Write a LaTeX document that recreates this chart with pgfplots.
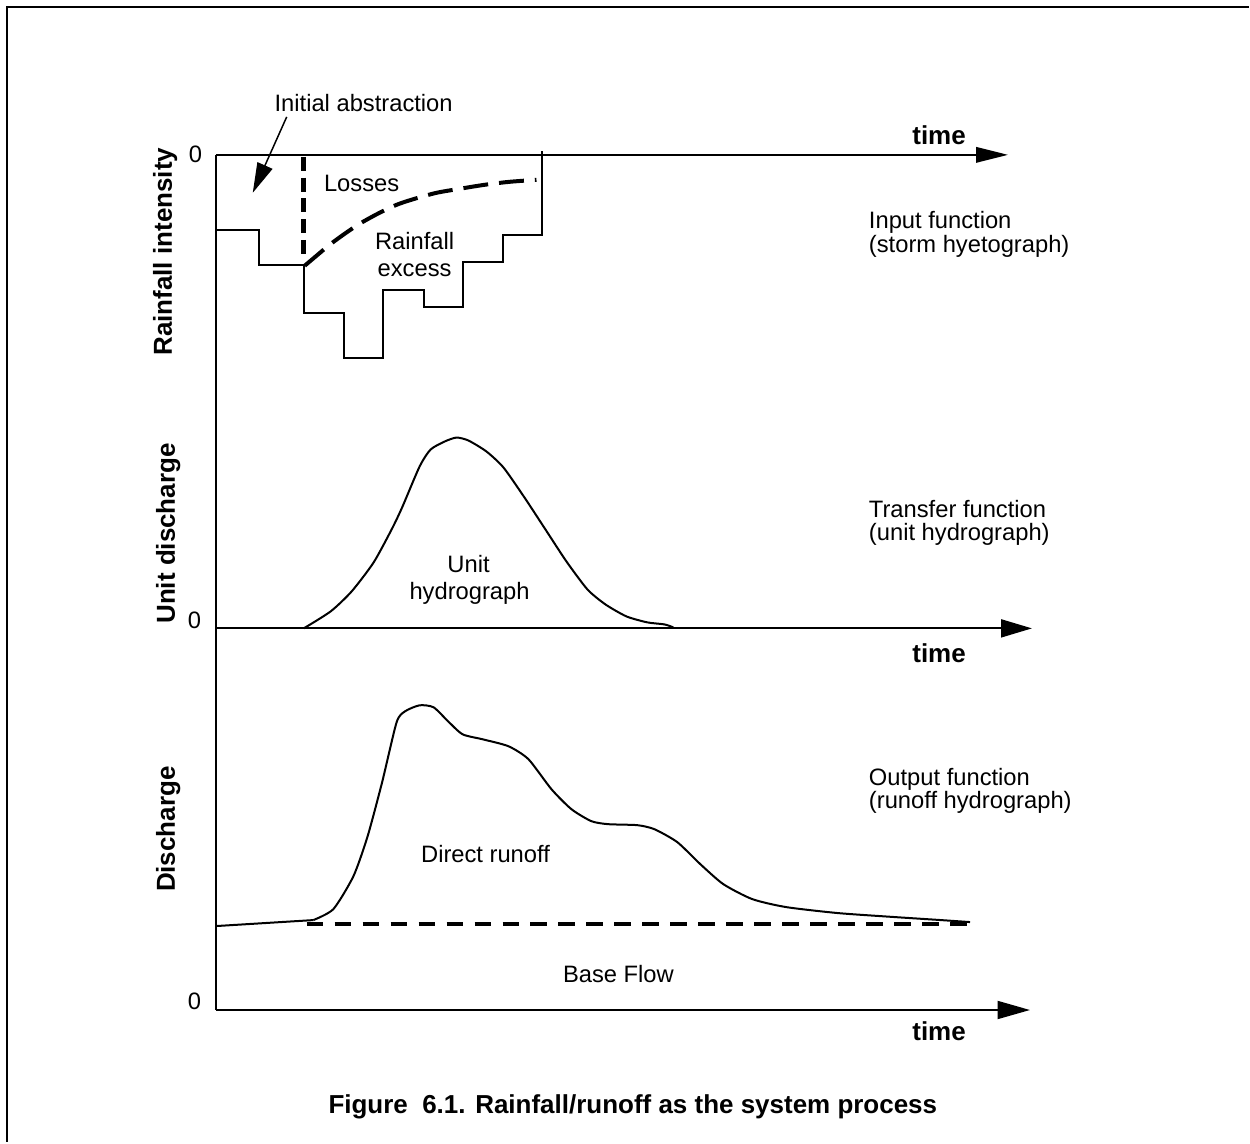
\documentclass[border=0pt]{standalone}
\usepackage{fontspec}
\setmainfont{Liberation Sans}
\usepackage{pgfplots}
\pgfplotsset{compat=1.18}
\usetikzlibrary{arrows.meta}
\begin{document}
\begin{tikzpicture}
\begin{axis}[
  x=0.4pt, y=0.4pt, y dir=reverse,
  xmin=0, xmax=1250, ymin=0, ymax=1143,
  hide axis, clip=false,
  cycle list={{black,mark=none}},
  every axis plot/.append style={black, line width=0.8pt, mark=none},
]
% bounding box
\path (axis cs:0,0) rectangle (axis cs:1250,1143);
% frame (top and left edges)
\addplot[black, line width=1pt] coordinates {(1250,7) (7,7) (7,1143)};
% y axis (shared)
\addplot[black] coordinates {(216,155) (216,1011)};
% time axes
\addplot[black, -{Triangle[length=12.8pt,width=6.2pt]}] coordinates {(216,155) (1009,155)};
\addplot[black, -{Triangle[length=12.4pt,width=7.2pt]}] coordinates {(216,629) (1033,629)};
\addplot[black, -{Triangle[length=13pt,width=7.2pt]}] coordinates {(216,1011) (1031,1011)};

% ---------- Panel 1: storm hyetograph ----------
\addplot[black, line width=0.8pt] coordinates {
 (216,230) (259,230) (259,265) (304,265) (304,313) (344,313) (344,358)
 (383,358) (383,290) (424,290) (424,307) (463,307) (463,262) (503,262)
 (503,235) (543,235) (543,151)};
% initial abstraction dashed line
\addplot[black, line width=1.8pt, dash pattern=on 5.6pt off 2.7pt] coordinates {(304,157) (304,257)};
% loss curve
\addplot[black, line width=1.6pt, dash pattern=on 10pt off 4.4pt, smooth, tension=0.5] coordinates {
 (305,266) (318,255) (330,245) (345,234) (360,224) (378,214) (397,205)
 (415,199) (437,193) (460,189) (485,185) (510,182) (537,180)};
% arrow for initial abstraction
\addplot[black, line width=0.6pt, -{Triangle[length=12pt,width=6.5pt]}] coordinates {(287,117) (253,193)};

\node[anchor=base, font=\fontsize{9.5pt}{11pt}\selectfont] at (axis cs:364,112) {Initial abstraction};
\node[anchor=base, font=\fontsize{9.5pt}{11pt}\selectfont] at (axis cs:362,192) {Losses};
\node[anchor=base, font=\fontsize{9.5pt}{11pt}\selectfont] at (axis cs:415,250) {Rainfall};
\node[anchor=base, font=\fontsize{9.5pt}{11pt}\selectfont] at (axis cs:415,277) {excess};
\node[anchor=base west, font=\fontsize{9.5pt}{11pt}\selectfont] at (axis cs:861,229) {Input function};
\node[anchor=base west, font=\fontsize{9.5pt}{11pt}\selectfont] at (axis cs:861,253) {(storm hyetograph)};
\node[anchor=base, font=\bfseries\fontsize{10.4pt}{12pt}\selectfont] at (axis cs:940,145) {time};
\node[anchor=base east, font=\fontsize{9.5pt}{11pt}\selectfont] at (axis cs:211,163) {0};
\node[anchor=base, rotate=90, font=\bfseries\fontsize{10.4pt}{12pt}\selectfont] at (axis cs:172,252) {Rainfall intensity};

% ---------- Panel 2: unit hydrograph ----------
\addplot[black, smooth, tension=0.4] coordinates {
 (304,629) (331,612) (352,592) (374,563) (392,530) (402.5,508) (420,467)
 (431,450) (445,442) (457,438) (469,441) (487,452) (504,468) (525,498)
 (546,530) (567,562) (588,590) (606,605) (627,617) (648,623) (665,625) (674,628)};
\node[anchor=base, font=\fontsize{9.5pt}{11pt}\selectfont] at (axis cs:469,573) {Unit};
\node[anchor=base, font=\fontsize{9.5pt}{11pt}\selectfont] at (axis cs:470,600) {hydrograph};
\node[anchor=base west, font=\fontsize{9.5pt}{11pt}\selectfont] at (axis cs:861,518) {Transfer function};
\node[anchor=base west, font=\fontsize{9.5pt}{11pt}\selectfont] at (axis cs:861,541) {(unit hydrograph)};
\node[anchor=base, font=\bfseries\fontsize{10.4pt}{12pt}\selectfont] at (axis cs:940,663) {time};
\node[anchor=base east, font=\fontsize{9.5pt}{11pt}\selectfont] at (axis cs:210,629) {0};
\node[anchor=base, rotate=90, font=\bfseries\fontsize{10.4pt}{12pt}\selectfont] at (axis cs:175,534) {Unit discharge};

% ---------- Panel 3: runoff hydrograph ----------
\addplot[black] coordinates {(216,927) (313.6,921)};
\addplot[black, smooth, tension=0.4] coordinates {
 (313.6,921) (333.7,910) (353.8,877) (368,837) (382.5,783) (397,723)
 (405.5,712) (420,706) (434,708) (448.5,722) (463,735) (483,740) (509,747)
 (529,760) (552,790) (572,810) (592,822) (609,825) (638,826) (655,830)
 (678,843) (701,865) (724,885) (753,900) (787,908) (839,914) (896,918)
 (942,921) (971,923)};
\addplot[black, line width=1.6pt, dash pattern=on 6.6pt off 4.6pt] coordinates {(307,924.5) (969,924.5)};
\node[anchor=base, font=\fontsize{9.5pt}{11pt}\selectfont] at (axis cs:486,863) {Direct runoff};
\node[anchor=base, font=\fontsize{9.5pt}{11pt}\selectfont] at (axis cs:619,983) {Base Flow};
\node[anchor=base west, font=\fontsize{9.5pt}{11pt}\selectfont] at (axis cs:861,786) {Output function};
\node[anchor=base west, font=\fontsize{9.5pt}{11pt}\selectfont] at (axis cs:861,809) {(runoff hydrograph)};
\node[anchor=base, font=\bfseries\fontsize{10.4pt}{12pt}\selectfont] at (axis cs:940,1042) {time};
\node[anchor=base east, font=\fontsize{9.5pt}{11pt}\selectfont] at (axis cs:210,1010) {0};
\node[anchor=base, rotate=90, font=\bfseries\fontsize{10.4pt}{12pt}\selectfont] at (axis cs:175,830) {Discharge};

% caption
\node[anchor=base west, font=\bfseries\fontsize{10.4pt}{12pt}\selectfont] at (axis cs:320,1115) {Figure~~6.1. Rainfall/runoff as the system process};
\end{axis}
\end{tikzpicture}
\end{document}
